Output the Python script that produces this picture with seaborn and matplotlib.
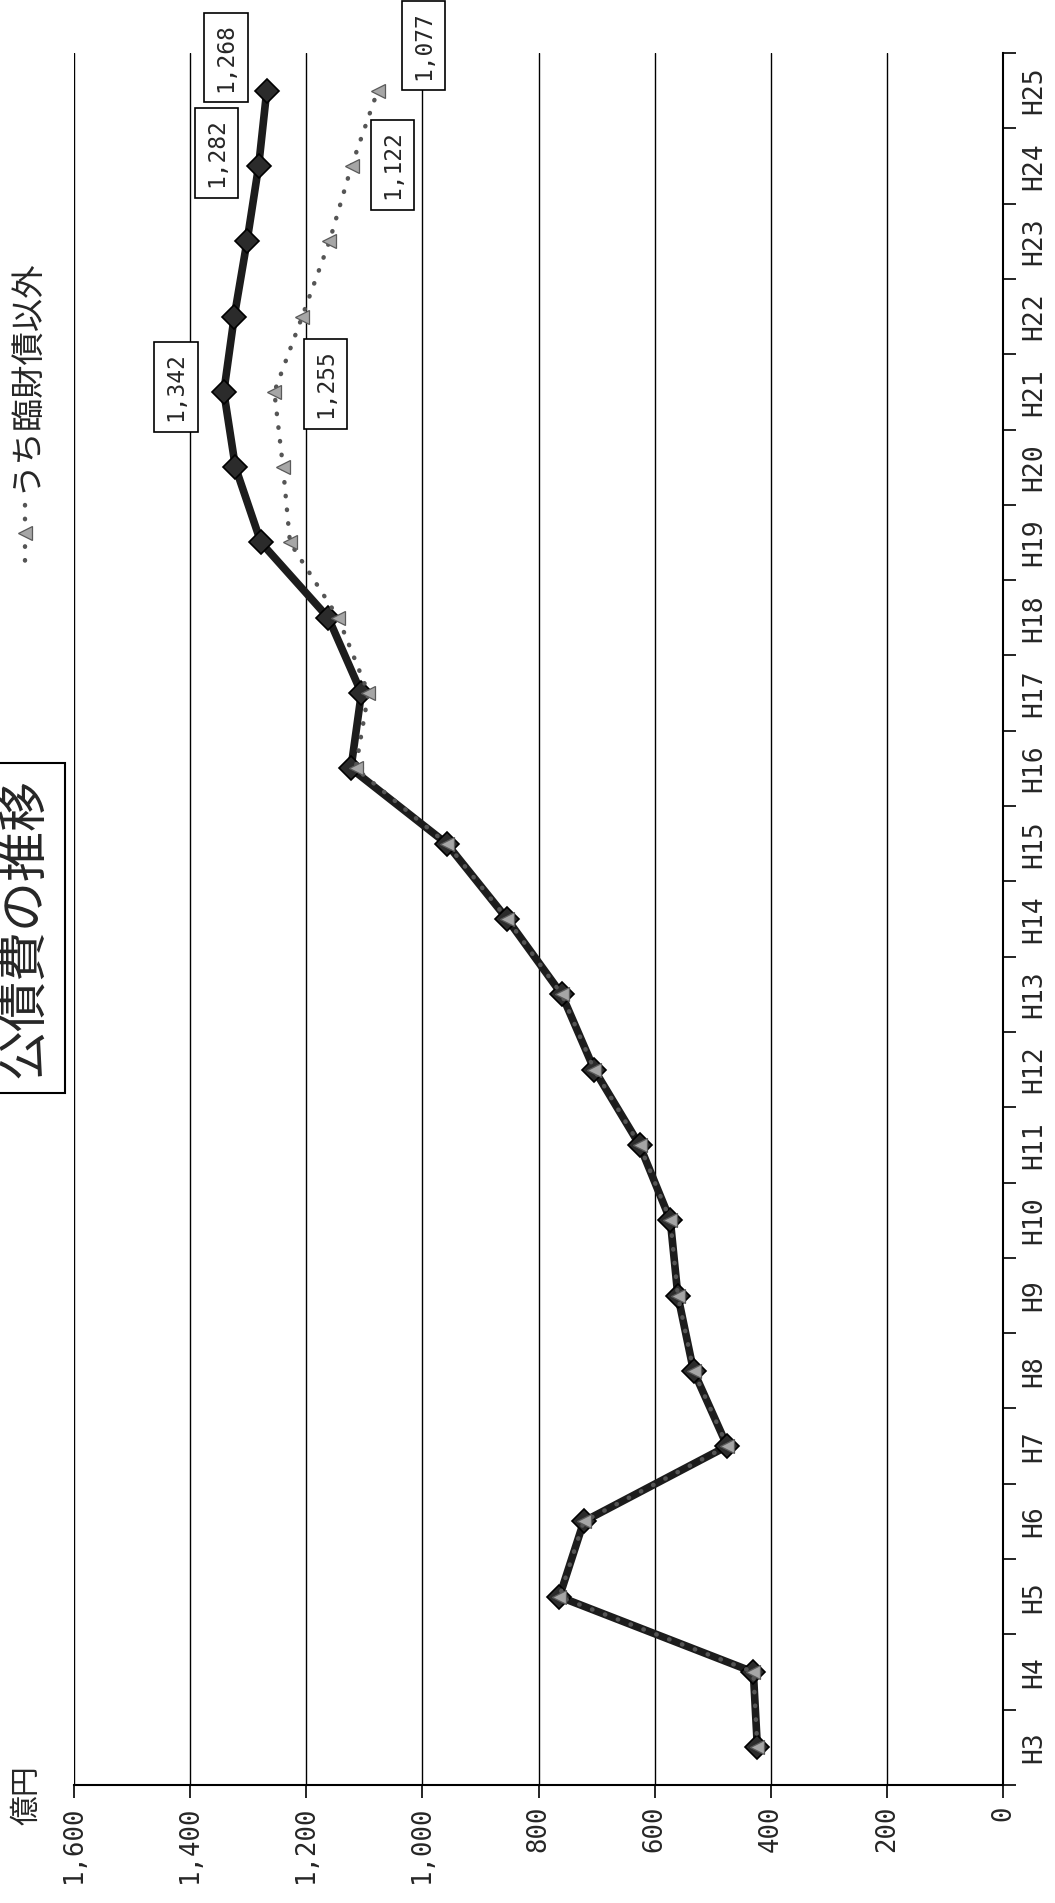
import numpy as np
import pandas as pd
import matplotlib
matplotlib.use("Agg")
import matplotlib.pyplot as plt
from matplotlib.lines import Line2D
import seaborn as sns

# ---- data -------------------------------------------------------------
years = ["H3", "H4", "H5", "H6", "H7", "H8", "H9", "H10", "H11", "H12",
         "H13", "H14", "H15", "H16", "H17", "H18", "H19", "H20", "H21",
         "H22", "H23", "H24", "H25"]
kousaihi = [423, 430, 764, 722, 475, 533, 560, 573, 626, 704, 760, 854,
            958, 1123, 1105, 1162, 1278, 1322, 1342, 1324, 1302, 1282, 1268]
rinzai_igai = [423, 430, 764, 722, 475, 533, 560, 573, 626, 704, 760, 854,
               958, 1115, 1093, 1145, 1228, 1240, 1255, 1207, 1160, 1122, 1077]
series_names = ["公債費", "うち臨財債以外"]
value_ticks = [0, 200, 400, 600, 800, 1000, 1200, 1400, 1600]
labelled_years = ["H21", "H24", "H25"]
title_text = "公債費の推移"
unit_text = "億円"

# label offsets (display pixels) for the value boxes
main_offsets = [(-48, 5), (-42, 13), (-41, 33)]
sub_offsets = [(51, 8), (41, 1), (46, 45)]

pos = np.arange(len(years))
df = pd.DataFrame({
    "pos": np.concatenate([pos, pos]),
    "value": kousaihi + rinzai_igai,
    "series": [series_names[0]] * len(years) + [series_names[1]] * len(years),
})

# ---- style ------------------------------------------------------------
sns.set_theme(style="white")
plt.rcParams["font.family"] = ["Noto Sans CJK JP", "DejaVu Sans"]
MONO = "DejaVu Sans Mono"

SUB_LINE = dict(color="#555555", lw=3.2, linestyle=(0, (0.1, 3.0)),
                dash_capstyle="round", marker="<", markersize=10,
                markerfacecolor="#a6a6a6", markeredgecolor="#5a5a5a",
                markeredgewidth=0.9)

W, H = 1055, 1903
fig = plt.figure(figsize=(W / 100, H / 100), dpi=100)
fig.patch.set_facecolor("white")
ax = fig.add_axes([74 / W, 1 - 1785 / H, (1003 - 74) / W, (1785 - 53) / H])

# chart is laid out sideways: values run right-to-left, years bottom-to-top
sns.lineplot(data=df[df["series"] == series_names[0]], x="value", y="pos",
             orient="y", sort=False, ax=ax, color="#1c1c1c", lw=5.5,
             marker="D", markersize=12.5, markerfacecolor="#2b2b2b",
             markeredgecolor="black", markeredgewidth=1.2, zorder=3,
             legend=False)
sns.lineplot(data=df[df["series"] == series_names[1]], x="value", y="pos",
             orient="y", sort=False, ax=ax, zorder=4, legend=False,
             **SUB_LINE)

ax.set_xlim(1600, 0)
ax.set_ylim(-0.5, len(years) - 0.5)
ax.set_xlabel("")
ax.set_ylabel("")

ax.set_xticks(value_ticks)
ax.set_xticklabels([f"{v:,}" for v in value_ticks], rotation=90,
                   family=MONO, fontsize=18.5)
ax.tick_params(axis="x", direction="out", length=9, width=1.2,
               color="black", pad=6, bottom=True, top=False)

ax.yaxis.tick_right()
ax.set_yticks(pos)
ax.set_yticklabels(years, rotation=90, family=MONO, fontsize=19, va="center")
ax.set_yticks(np.arange(-0.5, len(years), 1.0), minor=True)
ax.tick_params(axis="y", which="major", length=0, pad=13,
               right=True, left=False)
ax.tick_params(axis="y", which="minor", direction="out", length=9,
               width=1.2, color="black", right=True, left=False)

ax.grid(axis="x", color="black", lw=1.0)
ax.grid(axis="y", visible=False)
ax.set_axisbelow(True)
for side in ("top", "left"):
    ax.spines[side].set_visible(False)
for side in ("bottom", "right"):
    ax.spines[side].set_color("black")
    ax.spines[side].set_linewidth(1.5)

# value boxes
box = dict(boxstyle="square,pad=0.45", fc="white", ec="black", lw=1.2)
for yr, (dx, dy) in zip(labelled_years, main_offsets):
    i = years.index(yr)
    ax.annotate(f"{kousaihi[i]:,}", xy=(kousaihi[i], i), xytext=(dx, dy),
                textcoords="offset pixels", rotation=90, ha="center",
                va="center", family=MONO, fontsize=16.5, bbox=box, zorder=6)
for yr, (dx, dy) in zip(labelled_years, sub_offsets):
    i = years.index(yr)
    ax.annotate(f"{rinzai_igai[i]:,}", xy=(rinzai_igai[i], i), xytext=(dx, dy),
                textcoords="offset pixels", rotation=90, ha="center",
                va="center", family=MONO, fontsize=16.5, bbox=box, zorder=6)

# unit, title and legend
fig.text(27 / W, 1 - 1795 / H, unit_text, rotation=90, fontsize=21.5,
         ha="center", va="center")
fig.text(24 / W, 1 - 928 / H, title_text, rotation=90, fontsize=36,
         ha="center", va="center",
         bbox=dict(boxstyle="square,pad=0.3", fc="white", ec="black", lw=1.5))
fig.text(25 / W, 1 - 375 / H, series_names[1], rotation=90, fontsize=24,
         ha="center", va="center")
fig.add_artist(Line2D([25 / W, 25 / W, 25 / W],
                      [1 - 505 / H, 1 - 533 / H, 1 - 561 / H],
                      transform=fig.transFigure, markevery=[1], **SUB_LINE))

fig.savefig("out.png", dpi=100, facecolor="white")
